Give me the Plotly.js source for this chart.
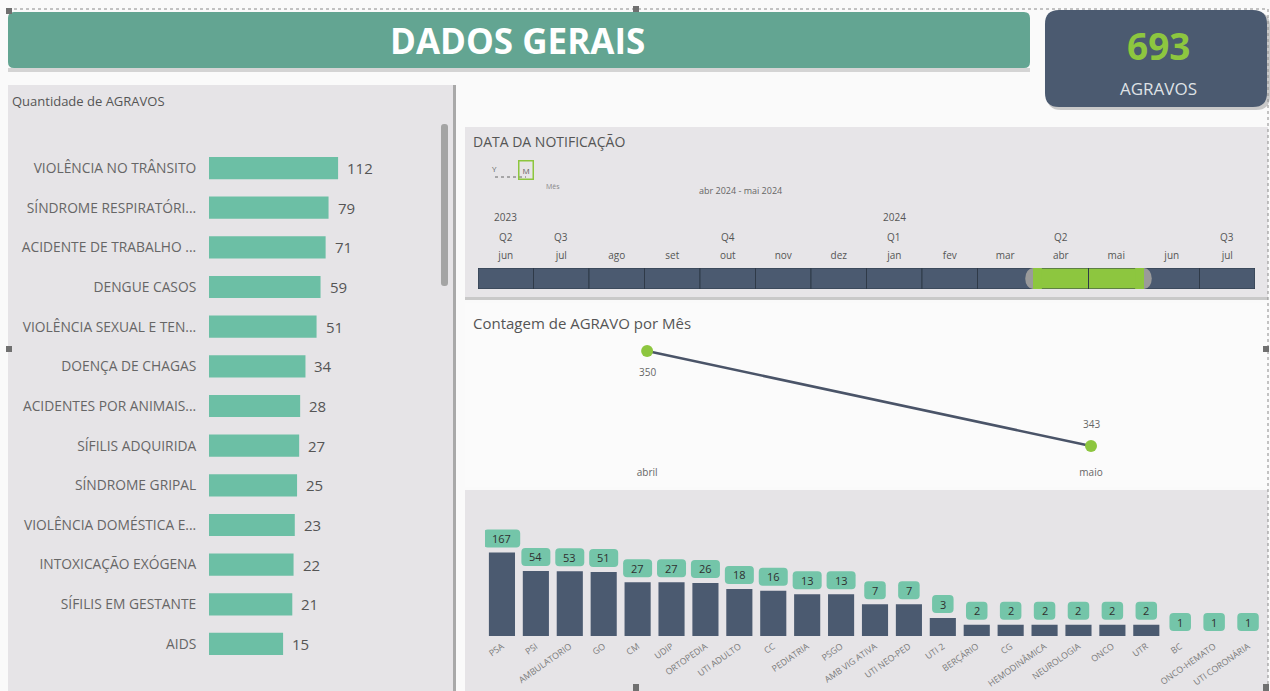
<!DOCTYPE html>
<html><head><meta charset="utf-8">
<script src="https://cdn.plot.ly/plotly-3.0.1.min.js"></script>
<style>html,body{margin:0;padding:0;background:#fafafa;overflow:hidden}#chart{width:1270px;height:691px}</style>
</head><body><div id="chart"></div><script>
// ---------------- DATA ----------------
const totalAgravos = 693;
const agravoCategories = ['VIOLÊNCIA NO TRÂNSITO','SÍNDROME RESPIRATÓRI...','ACIDENTE DE TRABALHO ...','DENGUE CASOS','VIOLÊNCIA SEXUAL E TEN...','DOENÇA DE CHAGAS','ACIDENTES POR ANIMAIS...','SÍFILIS ADQUIRIDA','SÍNDROME GRIPAL','VIOLÊNCIA DOMÉSTICA E...','INTOXICAÇÃO EXÓGENA','SÍFILIS EM GESTANTE','AIDS'];
const agravoValues = [112,79,71,59,51,34,28,27,25,23,22,21,15];
const timelineMonths = ['jun','jul','ago','set','out','nov','dez','jan','fev','mar','abr','mai','jun','jul'];
const timelineQuarters = ['Q2','Q3','','','Q4','','','Q1','','','Q2','','','Q3'];
const timelineYears = ['2023','','','','','','','2024','','','','','',''];
const timelineSelected = [0,0,0,0,0,0,0,0,0,0,1,1,0,0];
const timelineRail = [1,1,1,1,1,1,1,1,1,1,1,1,1,1];
const lineMonths = ['abril','maio'];
const lineValues = [350,343];
const setorCategories = ['PSA','PSI','AMBULATORIO','GO','CM','UDIP','ORTOPEDIA','UTI ADULTO','CC','PEDIATRIA','PSGO','AMB VIG ATIVA','UTI NEO-PED','UTI 2','BERÇÁRIO','CG','HEMODINÂMICA','NEUROLOGIA','ONCO','UTR','BC','ONCO-HEMATO','UTI CORONÁRIA'];
const setorValues = [167,54,53,51,27,27,26,18,16,13,13,7,7,3,2,2,2,2,2,2,1,1,1];

// ---------------- HELPERS ----------------
const W = 1270, H = 691;
const px = x => x / W;
const py = y => 1 - y / H;
const FONT = '"Open Sans", "Noto Sans", sans-serif';
const TEAL = '#6cbfa5', SLATE = '#4b5a70', LIME = '#8dc63f';

function rrect(x0, y0, x1, y1, r, fill, extra) {
  const X = v => px(v).toFixed(5), Y = v => py(v).toFixed(5);
  const p = `M${X(x0+r)},${Y(y0)} L${X(x1-r)},${Y(y0)} Q${X(x1)},${Y(y0)} ${X(x1)},${Y(y0+r)} ` +
            `L${X(x1)},${Y(y1-r)} Q${X(x1)},${Y(y1)} ${X(x1-r)},${Y(y1)} L${X(x0+r)},${Y(y1)} ` +
            `Q${X(x0)},${Y(y1)} ${X(x0)},${Y(y1-r)} L${X(x0)},${Y(y0+r)} Q${X(x0)},${Y(y0)} ${X(x0+r)},${Y(y0)} Z`;
  return Object.assign({type:'path', xref:'paper', yref:'paper', path:p, fillcolor:fill, line:{width:0}, layer:'below'}, extra||{});
}
function pixRoundPath(x0, y0, x1, y1, r) {
  return `M${x0+r},${y0} L${x1-r},${y0} Q${x1},${y0} ${x1},${y0+r} L${x1},${y1-r} Q${x1},${y1} ${x1-r},${y1} ` +
         `L${x0+r},${y1} Q${x0},${y1} ${x0},${y1-r} L${x0},${y0+r} Q${x0},${y0} ${x0+r},${y0} Z`;
}
function prect(x0, y0, x1, y1, fill, extra) {
  return Object.assign({type:'rect', xref:'paper', yref:'paper', x0:px(x0), x1:px(x1), y0:py(y1), y1:py(y0), fillcolor:fill, line:{width:0}, layer:'below'}, extra||{});
}
function txt(x, y, text, size, color, extra) {
  return Object.assign({xref:'paper', yref:'paper', x:px(x), y:py(y), text:text, showarrow:false,
    xanchor:'center', yanchor:'middle', font:{family:FONT, size:size, color:color}}, extra||{});
}

// ---------------- TRACES ----------------
const traces = [];
traces.push({
  type:'bar', orientation:'h', x:agravoValues, y:agravoCategories, xaxis:'x', yaxis:'y', width:0.56,
  marker:{color:TEAL}, hoverinfo:'x+y'
});
traces.push({
  type:'bar', x:timelineMonths.map((m,i)=>i), y:timelineRail, xaxis:'x2', yaxis:'y2', width:1,
  marker:{color:timelineSelected.map(s => s ? LIME : SLATE), line:{color:'#2f3a48', width:1}},
  hoverinfo:'skip'
});
traces.push({
  type:'scatter', mode:'lines+markers', x:lineMonths, y:lineValues, xaxis:'x3', yaxis:'y3',
  line:{color:'#4a5468', width:2.5}, marker:{color:LIME, size:12}, hoverinfo:'x+y'
});
traces.push({
  type:'bar', x:setorCategories, y:setorValues, xaxis:'x4', yaxis:'y4', width:0.77,
  marker:{color:SLATE, line:{width:0}}, hoverinfo:'x+y'
});

// ---------------- ANNOTATIONS ----------------
const ann = [];
ann.push(txt(517, 40, '<b>DADOS GERAIS</b>', 35, '#ffffff'));
ann.push(txt(1158, 45, '<b>'+totalAgravos+'</b>', 37, LIME));
ann.push(txt(1158, 88, 'AGRAVOS', 17, '#dfe2e6'));
ann.push(txt(10, 101, 'Quantidade de AGRAVOS', 13, '#555', {xanchor:'left'}));
ann.push(txt(471, 142, 'DATA DA NOTIFICAÇÃO', 14, '#555', {xanchor:'left'}));
ann.push(txt(471, 323, 'Contagem de AGRAVO por Mês', 15, '#555', {xanchor:'left'}));
ann.push(txt(495, 168, 'Y', 8, '#666'));
ann.push(txt(526, 170, 'M', 8, '#666', {bordercolor:LIME, borderwidth:1.5, borderpad:3}));
ann.push(txt(553, 186, 'Mês', 7, '#888'));
ann.push(txt(740, 190, 'abr 2024 - mai 2024', 9, '#666'));
timelineQuarters.forEach((q,i)=>{ if(q) ann.push({xref:'x2', yref:'paper', x:i, y:py(237), yanchor:'middle', text:q, showarrow:false, font:{family:FONT, size:10, color:'#555'}}); });
timelineYears.forEach((q,i)=>{ if(q) ann.push({xref:'x2', yref:'paper', x:i, y:py(217), yanchor:'middle', text:q, showarrow:false, font:{family:FONT, size:10, color:'#555'}}); });
agravoValues.forEach((v,i)=>ann.push({xref:'x', yref:'y', x:Math.log10(v), y:agravoCategories[i], xanchor:'left', yanchor:'middle', xshift:7,
  text:String(v), showarrow:false, font:{family:FONT, size:15, color:'#555'}}));
lineValues.forEach((v,i)=>ann.push({xref:'x3', yref:'y3', x:lineMonths[i], y:v, yanchor:'middle', yshift:(i===0?-21:22), text:String(v), showarrow:false,
  font:{family:FONT, size:10, color:'#666'}}));

// ---------------- SHAPES ----------------
const shapes = [
  prect(8, 68, 1030, 72, '#d4d4d4'),
  rrect(8, 12, 1030, 68, 6, '#63a592'),
  rrect(1047, 12, 1270, 110, 14, '#c9c9c9'),
  rrect(1045, 10, 1267, 107, 14, SLATE),
  prect(8, 85, 455, 691, '#e6e4e7'),
  prect(453, 85, 456, 691, '#a9a9a9'),
  rrect(441, 124, 448, 286, 3, '#a4a4a4'),
  prect(465, 127, 1268, 297, '#e7e5e8'),
  prect(465, 297, 1268, 300, '#c9c9c9'),
  prect(465, 303, 1268, 487, '#fbfbfb'),
  prect(465, 490, 1268, 691, '#e6e4e7'),
  {type:'line', xref:'paper', yref:'paper', x0:px(8), x1:px(1268), y0:py(9), y1:py(9), line:{color:'#8a8a8a', width:1, dash:'dot'}},
  {type:'line', xref:'paper', yref:'paper', x0:px(1268), x1:px(1268), y0:py(9), y1:py(691), line:{color:'#8a8a8a', width:1, dash:'dot'}},
  prect(6, 8, 12, 14, '#707070', {layer:'above'}),
  prect(633, 6, 639, 12, '#707070', {layer:'above'}),
  prect(6, 346, 12, 352, '#707070', {layer:'above'}),
  prect(1263, 346, 1269, 352, '#707070', {layer:'above'}),
  prect(633, 684, 639, 691, '#707070', {layer:'above'}),
  prect(1263, 684, 1269, 691, '#707070', {layer:'above'}),
  {type:'line', xref:'paper', yref:'paper', x0:px(495), x1:px(526), y0:py(177), y1:py(177), line:{color:'#666', width:1, dash:'dot'}},
  {type:'circle', xref:'x2', yref:'y2', x0:9.36, x1:9.64, y0:0, y1:1, fillcolor:'#9a9a9a', line:{width:0}, layer:'above'},
  {type:'rect', xref:'x2', yref:'y2', x0:9.5, x1:9.66, y0:0, y1:1, fillcolor:LIME, line:{width:0}, layer:'above'},
  {type:'circle', xref:'x2', yref:'y2', x0:11.36, x1:11.64, y0:0, y1:1, fillcolor:'#9a9a9a', line:{width:0}, layer:'above'},
  {type:'rect', xref:'x2', yref:'y2', x0:11.34, x1:11.5, y0:0, y1:1, fillcolor:LIME, line:{width:0}, layer:'above'},
];
setorValues.forEach((v,i)=>{
  const s = String(v);
  const w = 14 + 7.5*s.length;
  shapes.push({type:'path', xref:'x4', yref:'y4', xsizemode:'pixel', ysizemode:'pixel', xanchor:i, yanchor:v,
    path:pixRoundPath(-w/2, 5, w/2, 23, 4), fillcolor:'#74c5a9', line:{width:0}, layer:'above'});
  ann.push({xref:'x4', yref:'y4', x:setorCategories[i], y:Math.log10(v), yanchor:'middle', yshift:14, text:s, showarrow:false,
    font:{family:FONT, size:11, color:'#2f2f2f'}});
});

// ---------------- LAYOUT ----------------
const layout = {
  width:W, height:H, margin:{l:0,r:0,t:0,b:0}, paper_bgcolor:'#fafafa', plot_bgcolor:'rgba(0,0,0,0)',
  showlegend:false, font:{family:FONT},
  xaxis:{domain:[px(209), px(440)], type:'log', range:[0, 3.667], visible:false, fixedrange:true},
  yaxis:{domain:[py(663.8), py(148.2)], type:'category', range:[12.5,-0.5], showgrid:false, zeroline:false, showline:false,
    ticks:'outside', ticklen:9, tickcolor:'rgba(0,0,0,0)', tickfont:{family:FONT, size:13.8, color:'#666'}},
  xaxis2:{domain:[px(478), px(1255)], range:[-0.5,13.5], side:'top', anchor:'y2', tickvals:timelineMonths.map((m,i)=>i), ticktext:timelineMonths,
    showgrid:false, zeroline:false, showline:false, ticks:'outside', ticklen:4, tickcolor:'rgba(0,0,0,0)', tickfont:{family:FONT, size:10, color:'#555'}},
  yaxis2:{domain:[py(289), py(268)], range:[0,1], visible:false, anchor:'x2'},
  xaxis3:{domain:[px(470), px(1265)], type:'category', range:[-0.399,1.392], anchor:'y3', showgrid:false, zeroline:false, showline:false,
    ticks:'outside', ticklen:3, tickcolor:'rgba(0,0,0,0)', tickfont:{family:FONT, size:10, color:'#666'}},
  yaxis3:{domain:[py(460), py(335)], range:[341.97,351.18], visible:false, anchor:'x3'},
  xaxis4:{domain:[px(485), px(1265)], type:'category', range:[-0.5,22.5], anchor:'y4', showgrid:false, zeroline:false, showline:false,
    tickangle:-35, ticks:'outside', ticklen:1, tickcolor:'rgba(0,0,0,0)', tickfont:{family:FONT, size:8.8, color:'#7a7a7a'}},
  yaxis4:{domain:[py(636), py(505)], type:'log', range:[0,3.49], visible:false, anchor:'x4'},
  annotations:ann, shapes:shapes
};
Plotly.newPlot('chart', traces, layout, {displayModeBar:false, staticPlot:true});
</script></body></html>
